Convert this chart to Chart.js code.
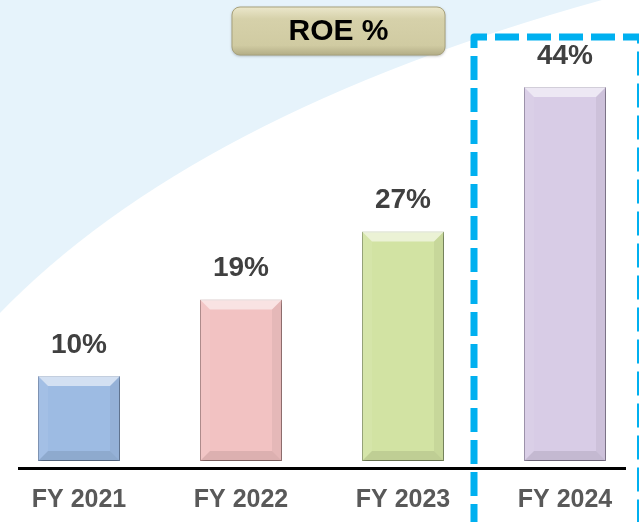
<!DOCTYPE html>
<html>
<head>
<meta charset="utf-8">
<script src="https://cdn.jsdelivr.net/npm/chart.js@4.4.0/dist/chart.umd.min.js"></script>
<style>
  html, body { margin: 0; padding: 0; overflow: hidden; background: #fff; }
  #caja { position: absolute; left: -2px; top: 0; width: 648px; height: 522px; }
</style>
</head>
<body>
<div id="caja"><canvas id="grafica"></canvas></div>
<script>
const anios = ["FY 2021", "FY 2022", "FY 2023", "FY 2024"];
const roe = [10, 19, 27, 44];
const colores = ["#9dbbe3", "#f2c2c2", "#d2e3a3", "#d8cce6"];
const bordes = ["#7f98bd", "#b98f8f", "#9aab78", "#a398b3"];
const titulo = "ROE %";

// desplazamiento del canvas respecto a la página
const OX = 2;

const fondo = {
  id: "fondo",
  beforeDraw(chart) {
    const ctx = chart.ctx;
    ctx.save();
    ctx.fillStyle = "#ffffff";
    ctx.fillRect(0, 0, chart.width, chart.height);
    ctx.fillStyle = "#e6f3fb";
    ctx.beginPath();
    ctx.moveTo(0, 0);
    ctx.lineTo(chart.width, 0);
    ctx.lineTo(639 + OX, -10);
    ctx.quadraticCurveTo(200 + OX, 105, 0, 315);
    ctx.closePath();
    ctx.fill();
    ctx.restore();
  }
};

// sombra de las barras
const sombra = {
  id: "sombra",
  beforeDatasetsDraw(chart) {
    const ctx = chart.ctx;
    ctx.save();
    ctx.shadowColor = "rgba(0,0,0,0.35)";
    ctx.shadowBlur = 4;
    ctx.shadowOffsetX = 1;
    ctx.shadowOffsetY = 2;
  },
  afterDatasetsDraw(chart) {
    chart.ctx.restore();
  }
};

const adornos = {
  id: "adornos",
  afterDatasetsDraw(chart) {
    const ctx = chart.ctx;
    const meta = chart.getDatasetMeta(0);
    const xs = chart.scales.x;

    // biselado de cada barra
    meta.data.forEach(bar => {
      const p = bar.getProps(["x", "y", "base", "width"], true);
      const l = p.x - p.width / 2, r = p.x + p.width / 2;
      const t = p.y, b = p.base, k = 10;
      ctx.save();
      ctx.fillStyle = "rgba(255,255,255,0.55)";
      ctx.beginPath();
      ctx.moveTo(l, t); ctx.lineTo(r, t); ctx.lineTo(r - k, t + k); ctx.lineTo(l + k, t + k);
      ctx.fill();
      ctx.fillStyle = "rgba(255,255,255,0.07)";
      ctx.beginPath();
      ctx.moveTo(l, t); ctx.lineTo(l + k, t + k); ctx.lineTo(l + k, b - k); ctx.lineTo(l, b);
      ctx.fill();
      ctx.fillStyle = "rgba(0,0,0,0.05)";
      ctx.beginPath();
      ctx.moveTo(r, t); ctx.lineTo(r - k, t + k); ctx.lineTo(r - k, b - k); ctx.lineTo(r, b);
      ctx.fill();
      ctx.fillStyle = "rgba(0,0,0,0.09)";
      ctx.beginPath();
      ctx.moveTo(l, b); ctx.lineTo(l + k, b - k); ctx.lineTo(r - k, b - k); ctx.lineTo(r, b);
      ctx.fill();
      ctx.restore();
    });

    // eje inferior
    ctx.save();
    ctx.fillStyle = "#000";
    ctx.fillRect(18 + OX, 467, 608, 3);

    // etiquetas de valor
    ctx.fillStyle = "#404040";
    ctx.font = "bold 28px 'Liberation Sans', Arial, sans-serif";
    ctx.textAlign = "center";
    ctx.textBaseline = "middle";
    meta.data.forEach((bar, i) => {
      ctx.fillText(roe[i] + "%", bar.x, bar.y - 31);
    });

    // categorías
    ctx.fillStyle = "#595959";
    ctx.font = "bold 25px 'Liberation Sans', Arial, sans-serif";
    anios.forEach((a, i) => {
      ctx.fillText(a, xs.getPixelForValue(i), 500);
    });

    // caja del título
    const bx = 232 + OX, by = 7, bw = 213, bh = 48, rad = 8;
    const g = ctx.createLinearGradient(0, by, 0, by + bh);
    g.addColorStop(0, "#ebe7cb");
    g.addColorStop(0.25, "#d6d1aa");
    g.addColorStop(0.8, "#d0cba2");
    g.addColorStop(1, "#b3ad86");
    ctx.shadowColor = "rgba(0,0,0,0.3)";
    ctx.shadowBlur = 3;
    ctx.shadowOffsetY = 1;
    ctx.fillStyle = g;
    ctx.beginPath();
    ctx.roundRect(bx, by, bw, bh, rad);
    ctx.fill();
    ctx.shadowColor = "transparent";
    ctx.strokeStyle = "#a8a27c";
    ctx.lineWidth = 1;
    ctx.stroke();
    ctx.fillStyle = "#000";
    ctx.font = "bold 30px 'Liberation Sans', Arial, sans-serif";
    ctx.fillText(titulo, bx + bw / 2, by + bh / 2 + 1);

    // recuadro punteado FY 2024
    ctx.strokeStyle = "#00b0f0";
    ctx.lineWidth = 7;
    ctx.lineJoin = "round";
    ctx.setLineDash([24, 8]);
    ctx.beginPath();
    ctx.moveTo(474 + OX, 560);
    ctx.lineTo(474 + OX, 37);
    ctx.lineTo(640.5 + OX, 37);
    ctx.lineTo(640.5 + OX, 560);
    ctx.stroke();
    ctx.restore();
  }
};

new Chart(document.getElementById("grafica"), {
  type: "bar",
  data: {
    labels: anios,
    datasets: [{
      label: titulo,
      data: roe,
      backgroundColor: colores,
      borderColor: bordes,
      borderWidth: 1,
      borderSkipped: false,
      barPercentage: 0.506,
      categoryPercentage: 1
    }]
  },
  options: {
    responsive: true,
    maintainAspectRatio: false,
    animation: false,
    layout: { padding: { top: 36, bottom: 61, left: 0, right: 0 } },
    plugins: { legend: { display: false }, tooltip: { enabled: false } },
    scales: {
      x: { display: false },
      y: { display: false, min: 0, max: 50 }
    }
  },
  plugins: [fondo, sombra, adornos]
});
</script>
</body>
</html>
